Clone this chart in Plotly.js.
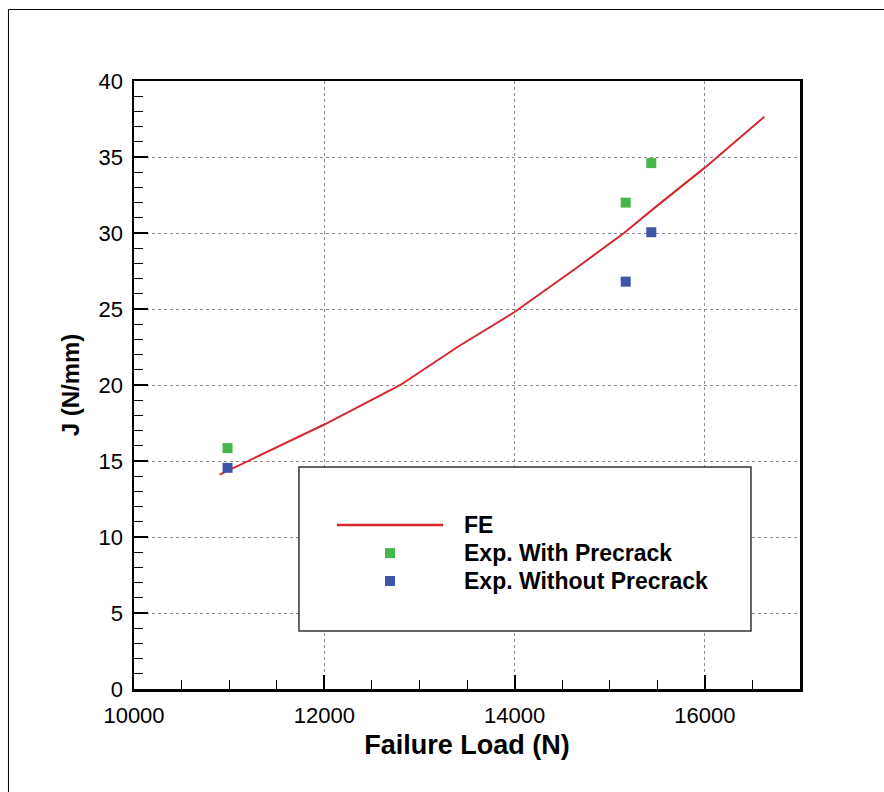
<!DOCTYPE html>
<html>
<head>
<meta charset="utf-8">
<script src="https://cdn.plot.ly/plotly-3.0.1.min.js"></script>
<style>
  html, body { margin: 0; padding: 0; background: #fff; overflow: hidden; }
  #chart { width: 884px; height: 792px; }
</style>
</head>
<body>
<div id="chart"></div>
<script>
// ---- data ----
const feLoad = [10900, 11500, 12000, 12800, 13400, 14000, 14650, 15150, 15500, 16000, 16625];
const feJ    = [14.1, 15.9, 17.4, 20.0, 22.5, 24.8, 27.7, 30.0, 31.8, 34.3, 37.65];

const precrackLoad = [10983, 15168, 15437];
const precrackJ    = [15.85, 32.0, 34.6];

const noPrecrackLoad = [10983, 15168, 15437];
const noPrecrackJ    = [14.55, 26.8, 30.05];

const seriesNames = ['FE', 'Exp. With Precrack', 'Exp. Without Precrack'];
const xTitle = 'Failure Load (N)';
const yTitle = 'J (N/mm)';

// ---- styles ----
const RED = '#d7262d', GREEN = '#45b649', BLUE = '#3f54a6';
const FONT = 'Liberation Sans, Arial, Helvetica, sans-serif';

const traces = [
  { x: feLoad, y: feJ, mode: 'lines', name: seriesNames[0],
    line: { color: RED, width: 2 }, showlegend: false },
  { x: precrackLoad, y: precrackJ, mode: 'markers', name: seriesNames[1],
    marker: { symbol: 'square', size: 10, color: GREEN }, showlegend: false },
  { x: noPrecrackLoad, y: noPrecrackJ, mode: 'markers', name: seriesNames[2],
    marker: { symbol: 'square', size: 10, color: BLUE }, showlegend: false }
];

// legend geometry (paper coords)
const L = { x0: 0.2477, x1: 0.9264, y0: 0.0954, y1: 0.3651 };
const rowY = [0.2697, 0.2235, 0.1776];
const symX = 0.3844, lineX0 = 0.3048, lineX1 = 0.464, textX = 0.4925;

const shapes = [
  // outer frame (left/top edges visible)
  { type: 'rect', xref: 'paper', yref: 'paper', x0: -0.1885, x1: 2, y0: -2, y1: 1.1176,
    line: { color: '#000', width: 1 }, fillcolor: 'rgba(0,0,0,0)', layer: 'above' },
  // legend box
  { type: 'rect', xref: 'paper', yref: 'paper', x0: L.x0, x1: L.x1, y0: L.y0, y1: L.y1,
    line: { color: '#333', width: 1.5 }, fillcolor: '#fff', layer: 'above' },
  // legend FE line
  { type: 'line', xref: 'paper', yref: 'paper', x0: lineX0, x1: lineX1, y0: rowY[0], y1: rowY[0],
    line: { color: RED, width: 2.5 }, layer: 'above' },
  // legend squares
  { type: 'rect', xref: 'paper', yref: 'paper', xsizemode: 'pixel', ysizemode: 'pixel',
    xanchor: symX, yanchor: rowY[1], x0: -5, x1: 5, y0: -5, y1: 5,
    line: { width: 0 }, fillcolor: GREEN, layer: 'above' },
  { type: 'rect', xref: 'paper', yref: 'paper', xsizemode: 'pixel', ysizemode: 'pixel',
    xanchor: symX, yanchor: rowY[2], x0: -5, x1: 5, y0: -5, y1: 5,
    line: { width: 0 }, fillcolor: BLUE, layer: 'above' }
];

const annotations = seriesNames.map((n, i) => ({
  xref: 'paper', yref: 'paper', x: textX, y: rowY[i], xanchor: 'left', yanchor: 'middle',
  text: n, showarrow: false, font: { family: FONT, size: 23, color: '#000', weight: 'bold' }
}));

const axisCommon = {
  showline: true, linecolor: '#000', linewidth: 2.5, mirror: true,
  ticks: 'inside', ticklen: 14, tickwidth: 2, tickcolor: '#000',
  showgrid: true, gridcolor: '#8a8a8a', gridwidth: 1, griddash: 'dot',
  zeroline: false,
  tickfont: { family: FONT, size: 22, color: '#000' }
};

const layout = {
  width: 884, height: 792,
  margin: { l: 134, r: 84, t: 81, b: 103 },
  paper_bgcolor: '#fff', plot_bgcolor: '#fff',
  showlegend: false,
  xaxis: Object.assign({}, axisCommon, {
    range: [10000, 17000], dtick: 2000, tick0: 10000, tickformat: 'd',
    minor: { dtick: 500, ticks: 'inside', ticklen: 9, tickwidth: 1, tickcolor: '#000', showgrid: false },
    ticklabelstandoff: 5,
    title: { text: xTitle, standoff: 8, font: { family: FONT, size: 27, color: '#000', weight: 'bold' } }
  }),
  yaxis: Object.assign({}, axisCommon, {
    range: [0, 40], dtick: 5, tick0: 0,
    minor: { dtick: 1, ticks: 'inside', ticklen: 9, tickwidth: 1, tickcolor: '#000', showgrid: false },
    ticklabelstandoff: 4,
    title: { text: yTitle, standoff: 12, font: { family: FONT, size: 24, color: '#000', weight: 'bold' } }
  }),
  shapes: shapes,
  annotations: annotations
};

Plotly.newPlot('chart', traces, layout, { displayModeBar: false, staticPlot: true });
</script>
</body>
</html>
